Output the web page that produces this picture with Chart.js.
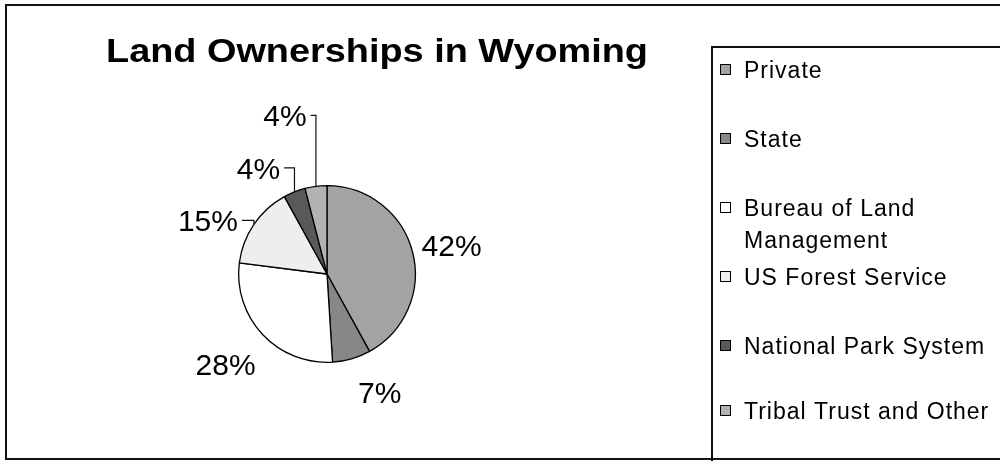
<!DOCTYPE html>
<html>
<head>
<meta charset="utf-8">
<title>Land Ownerships in Wyoming</title>
<script src="https://cdn.jsdelivr.net/npm/chart.js@4.4.1/dist/chart.umd.min.js"></script>
<style>
  html, body { margin: 0; padding: 0; background: #fff; }
  #wrap { width: 1000px; height: 461px; }
</style>
</head>
<body>
<div id="wrap"><canvas id="myChart" width="1000" height="461"></canvas></div>
<script>
'use strict';
var chartTitle = 'Land Ownerships in Wyoming';
var ownerLabels = ['Private', 'State', 'Bureau of Land Management', 'US Forest Service', 'National Park System', 'Tribal Trust and Other'];
var legendLines = [['Private'], ['State'], ['Bureau of Land', 'Management'], ['US Forest Service'], ['National Park System'], ['Tribal Trust and Other']];
var sharePercent = [42, 7, 28, 15, 4, 4];
var sliceColors = ['#a3a3a3', '#878787', '#ffffff', '#eeeeee', '#595959', '#b2b2b2'];

// where each percent label sits, relative to the slice's outer edge at mid angle
var labelNudge = [[39, -7], [28, 33], [-37, 30], [-46, -4], [-36, -24], [-31, -71]];
var hasLeader = [false, false, false, true, true, true];

var drawExtras = {
    id: 'drawExtras',
    afterDraw: function (chart) {
        var ctx = chart.ctx;
        ctx.save();

        // outer frame
        ctx.strokeStyle = '#111';
        ctx.lineWidth = 2;
        ctx.strokeRect(6, 5, 1010, 454);

        // title, stretched a bit like the original
        ctx.fillStyle = '#000';
        ctx.font = 'bold 33px "Liberation Sans", Arial, sans-serif';
        ctx.textBaseline = 'alphabetic';
        ctx.textAlign = 'left';
        var tw = ctx.measureText(chartTitle).width;
        ctx.save();
        ctx.translate(106, 62);
        ctx.scale(542 / tw, 1);
        ctx.fillText(chartTitle, 0, 0);
        ctx.restore();

        // percent labels
        var meta = chart.getDatasetMeta(0);
        ctx.font = '30px "Liberation Sans", Arial, sans-serif';
        ctx.lineWidth = 1.2;
        meta.data.forEach(function (arc, i) {
            var mid = (arc.startAngle + arc.endAngle) / 2;
            var ex = arc.x + Math.cos(mid) * arc.outerRadius;
            var ey = arc.y + Math.sin(mid) * arc.outerRadius;
            var txt = sharePercent[i] + '%';
            var cx = ex + labelNudge[i][0];
            var cy = ey + labelNudge[i][1];
            var w = ctx.measureText(txt).width;
            ctx.textAlign = 'center';
            ctx.fillText(txt, cx, cy + 11);
            if (hasLeader[i]) {
                ctx.beginPath();
                ctx.moveTo(cx + w / 2 + 4, cy);
                ctx.lineTo(ex, cy);
                ctx.lineTo(ex, ey);
                ctx.stroke();
            }
        });

        // legend box
        ctx.lineWidth = 2;
        ctx.strokeStyle = '#111';
        ctx.strokeRect(712, 47, 320, 440);
        var rowY = [70, 139, 208, 277, 346, 411];
        ctx.font = '23px "Liberation Sans", Arial, sans-serif';
        ctx.letterSpacing = '1px';
        ctx.textAlign = 'left';
        ctx.lineWidth = 1;
        legendLines.forEach(function (lines, i) {
            var y = rowY[i];
            ctx.fillStyle = sliceColors[i];
            ctx.fillRect(720.5, y - 5.5, 10, 10);
            ctx.strokeStyle = '#000';
            ctx.strokeRect(720.5, y - 5.5, 10, 10);
            ctx.fillStyle = '#000';
            lines.forEach(function (line, k) {
                ctx.fillText(line, 744, y + 8 + k * 32);
            });
        });
        ctx.restore();
    }
};

var ctx = document.getElementById('myChart');
var myChart = new Chart(ctx, {
    type: 'pie',
    data: {
        labels: ownerLabels,
        datasets: [{
            data: sharePercent,
            backgroundColor: sliceColors,
            borderColor: '#000',
            borderWidth: 1.3
        }]
    },
    options: {
        responsive: false,
        animation: false,
        layout: {
            padding: { left: 238, right: 584, top: 185, bottom: 98 }
        },
        plugins: {
            legend: { display: false },
            tooltip: { enabled: false }
        }
    },
    plugins: [drawExtras]
});
</script>
</body>
</html>
